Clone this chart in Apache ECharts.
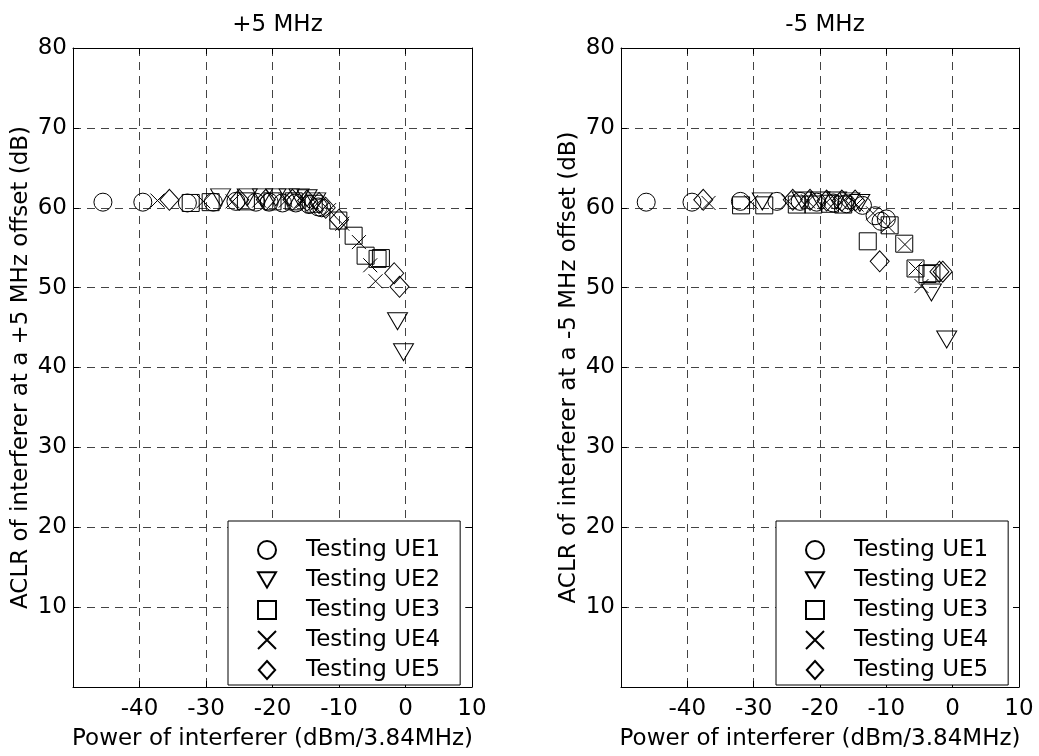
<!DOCTYPE html>
<html><head><meta charset="utf-8">
<script src="https://cdn.jsdelivr.net/npm/echarts@6/dist/echarts.min.js"></script>
<style>html,body{margin:0;padding:0;background:#fff}#c{width:1039px;height:756px}</style>
</head><body><div id="c"></div>
<script>
// ---- data: [power dBm/3.84MHz, ACLR dB] ----
const titles = ['+5 MHz', '-5 MHz'];
const yNames = ['ACLR of interferer at a +5 MHz offset (dB)', 'ACLR of interferer at a -5 MHz offset (dB)'];
const xName = 'Power of interferer (dBm/3.84MHz)';
const seriesNames = ['Testing UE1', 'Testing UE2', 'Testing UE3', 'Testing UE4', 'Testing UE5'];
const xTickLabels = ['-40', '-30', '-20', '-10', '0', '10'];
const yTickLabels = ['10', '20', '30', '40', '50', '60', '70', '80'];

const plusUE1 = [[-45.5,60.7],[-39.5,60.7],[-32.8,60.6],[-28.9,60.7],[-25.5,60.8],[-22.5,60.7],[-20.5,60.7],[-18.5,60.6],[-16.5,60.6],[-14.5,60.4],[-13.1,60.1],[-12.6,60.0]];
const plusUE2 = [[-27.8,61.3],[-23.8,61.3],[-21.5,61.3],[-19.5,61.3],[-17.5,61.3],[-16.0,61.3],[-14.8,61.2],[-13.5,60.8],[-1.2,45.8],[-0.3,41.9]];
const plusUE3 = [[-32.3,60.6],[-29.3,60.7],[-24.0,60.8],[-20.0,60.8],[-16.8,60.8],[-13.8,60.5],[-10.1,58.4],[-7.8,56.5],[-6.0,54.0],[-4.2,53.6],[-3.7,53.7]];
const plusUE4 = [[-37.3,60.9],[-30.4,60.8],[-26.0,60.8],[-22.0,60.9],[-18.0,60.9],[-15.5,60.8],[-13.3,60.5],[-11.5,59.7],[-9.5,58.0],[-7.0,55.7],[-5.3,52.8],[-4.5,50.8]];
const plusUE5 = [[-35.5,61.0],[-25.0,61.0],[-21.0,61.0],[-17.0,61.0],[-14.8,60.9],[-13.0,60.6],[-12.0,60.0],[-10.0,58.5],[-1.7,51.8],[-0.9,50.1]];

const minusUE1 = [[-46.2,60.7],[-39.3,60.7],[-32.0,60.8],[-26.5,60.8],[-23.0,60.8],[-20.5,60.7],[-18.0,60.6],[-16.0,60.5],[-13.6,60.3],[-11.7,59.0],[-10.8,58.3],[-10.0,58.6]];
const minusUE2 = [[-28.7,60.8],[-22.7,60.9],[-20.0,60.9],[-17.5,60.9],[-15.5,60.8],[-14.0,60.6],[-3.2,49.4],[-0.9,43.5]];
const minusUE3 = [[-31.9,60.3],[-28.4,60.3],[-23.5,60.4],[-21.0,60.4],[-18.5,60.5],[-16.5,60.4],[-12.8,55.8],[-9.5,57.8],[-7.3,55.5],[-5.6,52.4],[-3.8,51.7],[-3.2,51.8]];
const minusUE4 = [[-36.8,60.6],[-30.4,60.7],[-24.8,60.8],[-21.8,60.8],[-19.0,60.7],[-16.8,60.6],[-14.5,60.4],[-12.0,59.3],[-9.8,57.7],[-7.2,55.4],[-5.6,52.4],[-4.7,50.2]];
const minusUE5 = [[-37.6,61.0],[-24.1,61.0],[-21.5,61.0],[-19.0,60.9],[-16.7,60.9],[-14.7,60.9],[-11.0,53.3],[-2.0,52.0],[-1.5,52.0]];

const plotData = [
  [plusUE1, plusUE2, plusUE3, plusUE4, plusUE5],
  [minusUE1, minusUE2, minusUE3, minusUE4, minusUE5]
];

// ---- styles ----
const FONT = 'DejaVu Sans';
const FS = 23;
const markers = [
  {symbol: 'circle', size: 18},
  {symbol: 'path://M0 0L20 0L10 17Z', size: [20, 17]},
  {symbol: 'path://M0 0L10 0L10 10L0 10Z', size: 17},
  {symbol: 'path://M0 0L10 10M10 0L0 10', size: 14},
  {symbol: 'path://M10 0L20 11L10 22L0 11Z', size: [19, 21]}
];
const grids = [
  {left: 73, top: 48, width: 399, height: 644},
  {left: 621, top: 48, width: 398, height: 644}
];

const xAxes = [], yAxes = [], series = [], titleArr = [], legends = [];
grids.forEach((g, gi) => {
  const baseX = {
    type: 'value', gridIndex: gi, min: -50, max: 10, interval: 10,
    axisLine: {show: true, onZero: false, lineStyle: {color: '#000', width: 1}},
    axisTick: {show: true, inside: true, length: 6, lineStyle: {color: '#000'}},
  };
  xAxes.push(Object.assign({}, baseX, {
    position: 'bottom',
    name: xName, nameLocation: 'middle', nameGap: 41,
    nameTextStyle: {fontFamily: FONT, fontSize: FS, color: '#000'},
    axisLabel: {fontFamily: FONT, fontSize: FS, color: '#000', margin: 11,
      formatter: v => xTickLabels.indexOf(String(v)) >= 0 ? String(v) : ''},
    splitLine: {show: true, lineStyle: {color: '#444', type: [8, 6], width: 1}}
  }));
  xAxes.push(Object.assign({}, baseX, {
    position: 'top', axisLabel: {show: false}, splitLine: {show: false}
  }));
  const baseY = {
    type: 'value', gridIndex: gi, min: 0, max: 80, interval: 10,
    axisLine: {show: true, onZero: false, lineStyle: {color: '#000', width: 1}},
    axisTick: {show: true, inside: true, length: 6, lineStyle: {color: '#000'}},
  };
  yAxes.push(Object.assign({}, baseY, {
    position: 'left',
    name: yNames[gi], nameLocation: 'middle', nameGap: 40, nameRotate: 90,
    nameTextStyle: {fontFamily: FONT, fontSize: FS, color: '#000'},
    axisLabel: {fontFamily: FONT, fontSize: FS, color: '#000', margin: 6,
      formatter: v => yTickLabels.indexOf(String(v)) >= 0 ? String(v) : ''},
    splitLine: {show: true, lineStyle: {color: '#444', type: [8, 6], width: 1}}
  }));
  yAxes.push(Object.assign({}, baseY, {
    position: 'right', axisLabel: {show: false}, splitLine: {show: false}
  }));
  titleArr.push({
    text: titles[gi], left: g.left + g.width / 2, top: 9, textAlign: 'center',
    textStyle: {fontFamily: FONT, fontSize: FS, fontWeight: 'normal', color: '#000'}
  });
  legends.push({
    data: seriesNames, orient: 'vertical',
    left: g.left + 155, top: 521,
    padding: [14, 20, 0, 29],
    itemWidth: 18, itemHeight: 18, itemGap: 0,
    symbolKeepAspect: true,
    backgroundColor: '#fff', borderColor: '#000', borderWidth: 1,
    selectedMode: false,
    textStyle: {fontFamily: FONT, fontSize: FS, color: '#000', lineHeight: 30, padding: [0, 0, 0, 25]}
  });
  plotData[gi].forEach((d, si) => {
    series.push({
      type: 'scatter', name: seriesNames[si],
      xAxisIndex: gi * 2, yAxisIndex: gi * 2,
      data: d,
      symbol: markers[si].symbol, symbolSize: markers[si].size,
      symbolKeepAspect: false,
      itemStyle: {color: 'rgba(0,0,0,0)', borderColor: '#000', borderWidth: 1, opacity: 1},
      emphasis: {disabled: true},
      animation: false
    });
  });
});

const chart = echarts.init(document.getElementById('c'), null, {renderer: 'canvas'});
chart.setOption({
  backgroundColor: '#fff',
  animation: false,
  title: titleArr,
  legend: legends,
  grid: grids,
  xAxis: xAxes,
  yAxis: yAxes,
  series: series
});
</script></body></html>
